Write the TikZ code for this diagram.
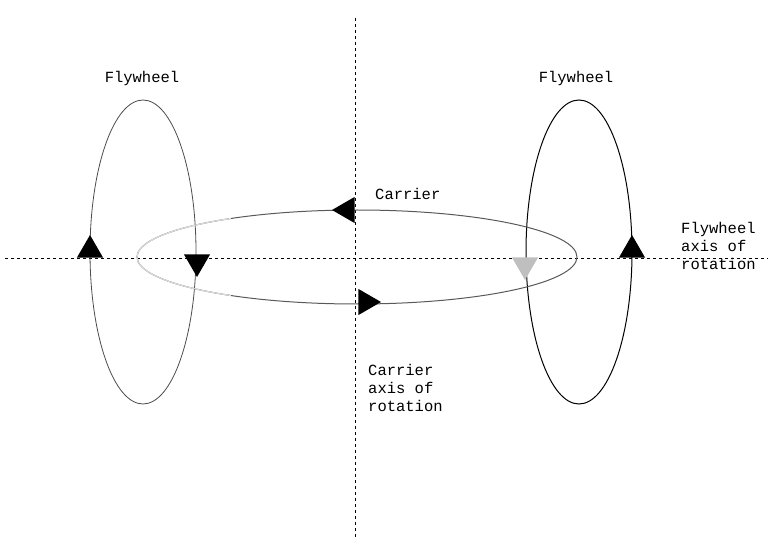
\documentclass[tikz,border=0pt]{standalone}
\usepackage{fontspec}
\setmonofont{Liberation Mono}
\usetikzlibrary{shapes.geometric}
\begin{document}
\begin{tikzpicture}[x=1pt,y=-1pt,
  lbl/.style={font=\ttfamily\fontsize{15.5}{18}\selectfont, inner sep=0pt, align=left},
  tri/.style={isosceles triangle, isosceles triangle apex angle=60, fill=black, inner sep=0pt, minimum height=22pt, minimum width=26pt},
  axis/.style={dashed, line width=0.8pt}]
\useasboundingbox (0,0) rectangle (768,553);
\coordinate (vt) at (355,18); \coordinate (vb) at (355,537);
\coordinate (hl) at (5,258); \coordinate (hr) at (768,258);
\draw[axis] (vt) -- (vb);
\draw[axis] (hl) -- (hr);
\draw[black!70, line width=0.8pt] (143,252) ellipse [x radius=53, y radius=152];
\draw[black, line width=1pt] (579,252) ellipse [x radius=53, y radius=152];
\draw[black!65, line width=1pt] (357,257) ellipse [x radius=220, y radius=47];
\draw[black!15, line width=1.2pt] (357,257) ++(125:220 and -47) arc [start angle=125, end angle=235, x radius=220, y radius=-47];
\node[tri, shape border rotate=90] (t1) at (90,250) {};
\node[tri, shape border rotate=270] (t2) at (197,262) {};
\node[tri, shape border rotate=180] (t3) at (347,210) {};
\node[tri, shape border rotate=0] (t4) at (366,302) {};
\node[tri, shape border rotate=270, fill=black!25] (t5) at (525,265) {};
\node[tri, shape border rotate=90] (t6) at (632,250) {};
\node[lbl] (f1) at (142,78) {Flywheel};
\node[lbl] (f2) at (576,78) {Flywheel};
\node[lbl, anchor=west] (c) at (375,194) {Carrier};
\node[lbl, anchor=north west] (fa) at (681,222) {Flywheel\\axis of\\rotation};
\node[lbl, anchor=north west] (ca) at (368,364) {Carrier\\axis of\\rotation};
\end{tikzpicture}
\end{document}
